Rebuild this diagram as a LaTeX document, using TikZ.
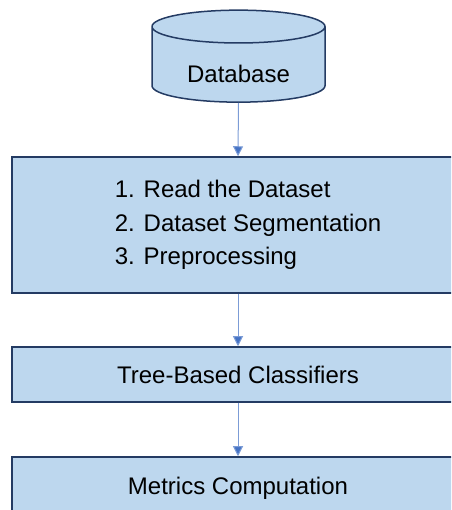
\documentclass[tikz,border=0pt]{standalone}
\usepackage{fontspec}
\setmainfont{Liberation Sans}
\usepackage{xcolor}
\usepackage{tikz}
\usetikzlibrary{arrows.meta,shapes.geometric,positioning,calc}

\definecolor{boxfill}{HTML}{BDD7EE}
\definecolor{boxline}{HTML}{243B63}
\definecolor{arrowblue}{HTML}{4472C4}

\tikzset{
	stepbox/.style={draw=boxline, fill=boxfill, line width=1.5pt, minimum width=452pt, font=\fontsize{24}{33.5}\selectfont},
	flow/.style={draw=arrowblue!70, line width=1pt, -{Triangle[length=10pt,width=10pt,fill=arrowblue]}}
}

\begin{document}
\begin{tikzpicture}[x=1pt,y=1pt]
		\useasboundingbox (0,0) rectangle (451,510);
		\clip (0,0) rectangle (451,510);

		% data source
		\node[draw=boxline, fill=boxfill, line width=1.5pt, cylinder, shape border rotate=90, aspect=0.3,
			minimum width=173pt, minimum height=92pt, text height=32pt, text depth=0pt,
			font=\fontsize{24}{28}\selectfont] (db) at (238.5,443) {Database};

		% processing steps
		\node[stepbox, minimum height=136pt, align=left] (prep) at (238,285) {
			\hspace*{20pt}1. Read the Dataset\\
			\hspace*{20pt}2. Dataset Segmentation\\
			\hspace*{20pt}3. Preprocessing
		};
		\node[stepbox, minimum height=55pt] (clf) at (238,135.5) {Tree-Based Classifiers};
		\node[stepbox, minimum height=62pt] (metrics) at (238,22) {Metrics Computation};

		\draw[flow] (db.bottom) -- (prep.north);
		\draw[flow] (prep) -- (clf);
		\draw[flow] (clf) -- (metrics);
	\end{tikzpicture}
\end{document}
